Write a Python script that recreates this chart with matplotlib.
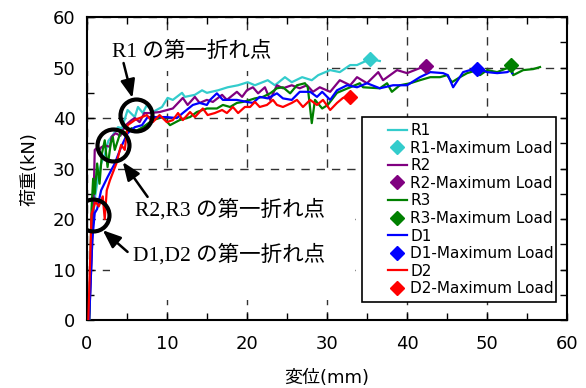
import matplotlib
matplotlib.use("Agg")
import matplotlib.pyplot as plt
from matplotlib.lines import Line2D
from matplotlib.legend_handler import HandlerLine2D
from matplotlib.patches import Rectangle
from matplotlib.ticker import MultipleLocator

plt.rcParams['font.family'] = ['DejaVu Sans', 'Noto Sans CJK JP']

# load-displacement curves (displacement mm, load kN)
R1_x = [0.3, 0.7, 1.0, 1.4, 1.8, 2.3, 2.7, 3.2, 3.9, 4.4, 5.1, 6.0, 6.4, 7.0, 7.5, 8.25, 9.4, 10.1,
        10.75, 11.9, 12.25, 13.5, 14.4, 15.0, 16.4, 17.6, 18.9, 20.1, 21.0, 22.6, 23.5, 24.75, 25.6,
        26.9, 28.1, 28.9, 30.4, 31.6, 32.9, 33.75, 35.4, 36.6]
R1_y = [0, 18, 24, 28, 31, 33, 35.5, 36.5, 38.2, 38.0, 41.6, 40.2, 42.2, 41.0, 42.6, 41.2, 42.2, 44.0,
        43.6, 45.0, 44.2, 44.6, 45.5, 45.0, 45.5, 46.1, 46.5, 47.1, 46.5, 47.5, 46.5, 48.1, 47.1,
        48.1, 47.5, 48.5, 49.5, 49.1, 50.5, 50.5, 51.7, 51.3]

R2_x = [0.3, 0.8, 1.0, 1.2, 1.5, 1.8, 2.25, 2.9, 3.1, 3.6, 4.2, 4.8, 5.6, 6.0, 6.6, 7.2, 7.9, 9.1,
        10.75, 12.0, 12.6, 13.5, 14.1, 15.0, 15.75, 16.9, 17.5, 18.75, 19.4, 20.0, 20.75, 21.4,
        22.25, 22.9, 23.75, 24.5, 25.6, 26.6, 27.5, 28.25, 29.1, 30.4, 31.6, 32.9, 33.75, 35.0,
        36.4, 37.0, 38.75, 40.0, 41.6, 42.4]
R2_y = [0, 20, 33.7, 34.0, 33.5, 34.2, 34.6, 34.3, 36.3, 37.0, 36.5, 38.5, 39.6, 40.0, 39.2, 41.0,
        41.0, 41.2, 41.9, 44.0, 42.6, 44.2, 43.0, 43.6, 43.2, 44.6, 43.6, 45.2, 44.2, 45.5, 46.1,
        44.9, 46.1, 43.6, 46.5, 45.9, 46.5, 45.9, 46.5, 45.2, 46.1, 45.2, 47.5, 46.5, 48.1, 46.9,
        49.1, 47.5, 49.5, 48.9, 49.9, 50.3]

R3_x = [0.3, 0.6, 0.8, 1.0, 1.3, 1.6, 1.9, 2.25, 2.6, 3.0, 3.25, 3.5, 4.3, 5.0, 5.6, 6.2, 7.0, 8.25,
        9.5, 10.4, 11.6, 12.9, 13.75, 15.0, 16.25, 17.0, 17.9, 18.75, 19.5, 20.4, 21.0, 22.0, 22.9,
        23.75, 24.5, 25.4, 26.25, 27.25, 27.6, 28.1, 28.5, 29.4, 30.1, 31.25, 32.0, 32.9, 34.1,
        34.5, 36.6, 37.5, 38.1, 39.1, 40.4, 41.6, 42.9, 44.1, 45.0, 45.6, 46.6, 47.5, 48.75, 49.1,
        50.0, 51.25, 52.5, 53.0, 53.25, 54.5, 55.75, 56.6]
R3_y = [0, 22, 28, 25, 31, 27, 33, 35.6, 30.3, 35, 36.3, 33.7, 37.6, 37, 38, 37.5, 38.2, 39.6,
        40.2, 38.6, 39.6, 40.2, 41.2, 41.9, 41.9, 42.6, 42.2, 43.0, 43.2, 43.6, 43.9, 44.2, 44.9,
        45.9, 46.1, 44.9, 46.5, 46.9, 46.1, 39.0, 43.6, 41.9, 42.6, 45.0, 45.5, 46.1, 46.9,
        46.1, 45.9, 46.9, 45.2, 46.5, 46.9, 47.5, 48.1, 48.1, 48.5, 47.1, 48.1, 48.9, 49.5, 48.5,
        49.5, 49.1, 49.9, 50.3, 48.5, 49.5, 49.7, 50.1]

D1_x = [0.3, 0.7, 1.0, 1.3, 1.8, 2.6, 3.5, 4.3, 5.1, 6.0, 6.9, 7.6, 8.75, 10.0, 11.25, 12.0, 13.25,
        14.1, 15.0, 15.4, 16.25, 17.0, 18.75, 20.0, 20.75, 21.6, 22.6, 23.75, 24.5, 25.6, 26.6,
        27.9, 28.75, 29.4, 30.4, 31.25, 32.5, 33.75, 35.0, 36.6, 38.25, 40.0, 41.6, 42.9, 44.5,
        45.1, 45.75, 47.0, 48.7, 50.0, 51.25, 52.5, 53.0, 53.1]
D1_y = [0, 16, 21.2, 22, 25.7, 28.3, 31, 34.3, 37, 38.2, 38.6, 40.2, 40.2, 40.2, 40.0, 41.0, 42.6,
        43.0, 42.6, 43.6, 44.9, 43.6, 43.6, 43.2, 43.0, 44.2, 43.9, 44.9, 43.9, 43.6, 45.2,
        45.2, 44.2, 45.2, 43.6, 45.5, 46.5, 46.1, 46.9, 45.9, 46.5, 46.5, 48.1, 49.1, 48.9,
        48.5, 46.1, 49.1, 49.9, 49.1, 48.9, 49.1, 49.5, 48.9]

D2_x = [0.2, 0.6, 1.1, 1.5, 2.0, 2.25, 2.5, 2.9, 3.7, 4.3, 4.75, 5.1, 6.0, 6.6, 7.5, 8.25, 9.1, 10.0,
        10.75, 11.4, 12.0, 12.9, 13.5, 14.5, 15.1, 16.0, 16.9, 17.5, 18.25, 18.9, 19.75, 20.4,
        21.0, 21.6, 22.5, 23.25, 23.75, 24.5, 25.6, 26.25, 27.0, 27.9, 28.75, 29.5, 30.4, 31.25,
        32.0, 32.9]
D2_y = [0, 21, 23.5, 22.5, 24.5, 20.0, 25.7, 27.7, 31, 34.7, 33.7, 38.6, 39.6, 40.0, 40.6, 39.2,
        40.6, 39.2, 39.6, 41.0, 39.6, 41.2, 40.2, 41.9, 40.6, 41.0, 41.6, 41.0, 42.2, 41.0, 42.2,
        42.2, 43.2, 42.2, 42.6, 43.6, 42.6, 42.2, 43.0, 43.6, 42.2, 43.6, 42.6, 43.6, 41.6, 43.0,
        44.0, 44.1]

names = ["R1", "R2", "R3", "D1", "D2"]
curves_x = [R1_x, R2_x, R3_x, D1_x, D2_x]
curves_y = [R1_y, R2_y, R3_y, D1_y, D2_y]
colors = ["#33CCCC", "#800080", "#008000", "#0000FF", "#FF0000"]

# maximum load points
max_x = [35.4, 42.4, 53.0, 48.7, 32.9]
max_y = [51.7, 50.3, 50.5, 49.7, 44.1]

# first yield point annotations: text, text pos, arrow tail, arrow head, circle centre
ann_text = ["R1 の第一折れ点", "R2,R3 の第一折れ点", "D1,D2 の第一折れ点"]
ann_text_xy = [(3.1, 53.1), (6.0, 21.8), (5.75, 12.9)]
ann_tail = [(4.6, 50.9), (7.6, 24.4), (5.1, 13.5)]
ann_head = [(5.7, 44.0), (4.5, 31.3), (2.0, 17.8)]
circle_x = [6.2, 3.25, 0.75]
circle_y = [40.6, 34.6, 20.8]

fig = plt.figure(figsize=(5.86, 3.88), dpi=100)
ax = fig.add_axes([0.148, 0.175, 0.820, 0.781])

ax.set_xlim(0, 60)
ax.set_ylim(0, 60)
ax.xaxis.set_major_locator(MultipleLocator(10))
ax.yaxis.set_major_locator(MultipleLocator(10))
ax.xaxis.set_minor_locator(MultipleLocator(5))
ax.yaxis.set_minor_locator(MultipleLocator(5))
ax.tick_params(which="both", direction="in", top=True, right=True, length=5, width=1,
               labelsize=13)
ax.tick_params(axis="x", pad=11)
ax.tick_params(axis="y", pad=8)
ax.grid(True, which="major", color="#333333", linestyle=(0, (6, 5)), linewidth=1)
ax.set_axisbelow(True)
for s in ax.spines.values():
    s.set_linewidth(1.5)

# white text-box backgrounds that hide the grid (as in the source figure)
ax.add_patch(Rectangle((0, 49.3), 30, 7.7, facecolor="white", edgecolor="none", zorder=1))
ax.add_patch(Rectangle((2.9, 4.0), 30.6, 25.4, facecolor="white", edgecolor="none", zorder=1))

handles = []
for n, xs, ys, c, mx, my in zip(names, curves_x, curves_y, colors, max_x, max_y):
    ln, = ax.plot(xs, ys, color=c, lw=1.6, label=n, zorder=3)
    mk, = ax.plot([mx], [my], ls="none", marker="D", ms=7, color=c,
                  label=n + "-Maximum Load", zorder=4)
    handles += [ln, mk]

ax.plot(circle_x, circle_y, ls="none", marker="o", ms=23, mfc="none", mec="black",
        mew=3, zorder=5)
for t, (tx, ty), tail, head in zip(ann_text, ann_text_xy, ann_tail, ann_head):
    ax.text(tx, ty, t, ha="left", va="center", fontsize=15.5, zorder=6,
            family=["Liberation Serif", "Noto Sans CJK JP"])
    ax.annotate("", xy=head, xytext=tail, zorder=6,
                arrowprops=dict(arrowstyle="-|>,head_length=0.55,head_width=0.22", color="black",
                                lw=1.8, mutation_scale=20, shrinkA=0, shrinkB=0))

leg = ax.legend(handles=handles, loc="upper left", bbox_to_anchor=(0.556, 0.03, 0.436, 0.666),
                mode="expand", fontsize=11, labelspacing=0.17, handlelength=2.6,
                handletextpad=0.2, borderpad=0.4, fancybox=False, framealpha=1,
                edgecolor="black", handler_map={Line2D: HandlerLine2D(xpad=1.3)})
leg.get_frame().set_linewidth(1.2)
leg.set_zorder(7)

ax.set_xlabel("変位(mm)", fontsize=13, labelpad=11)
ax.set_ylabel("荷重(kN)", fontsize=13, labelpad=10)

fig.savefig("out.png", dpi=100)
